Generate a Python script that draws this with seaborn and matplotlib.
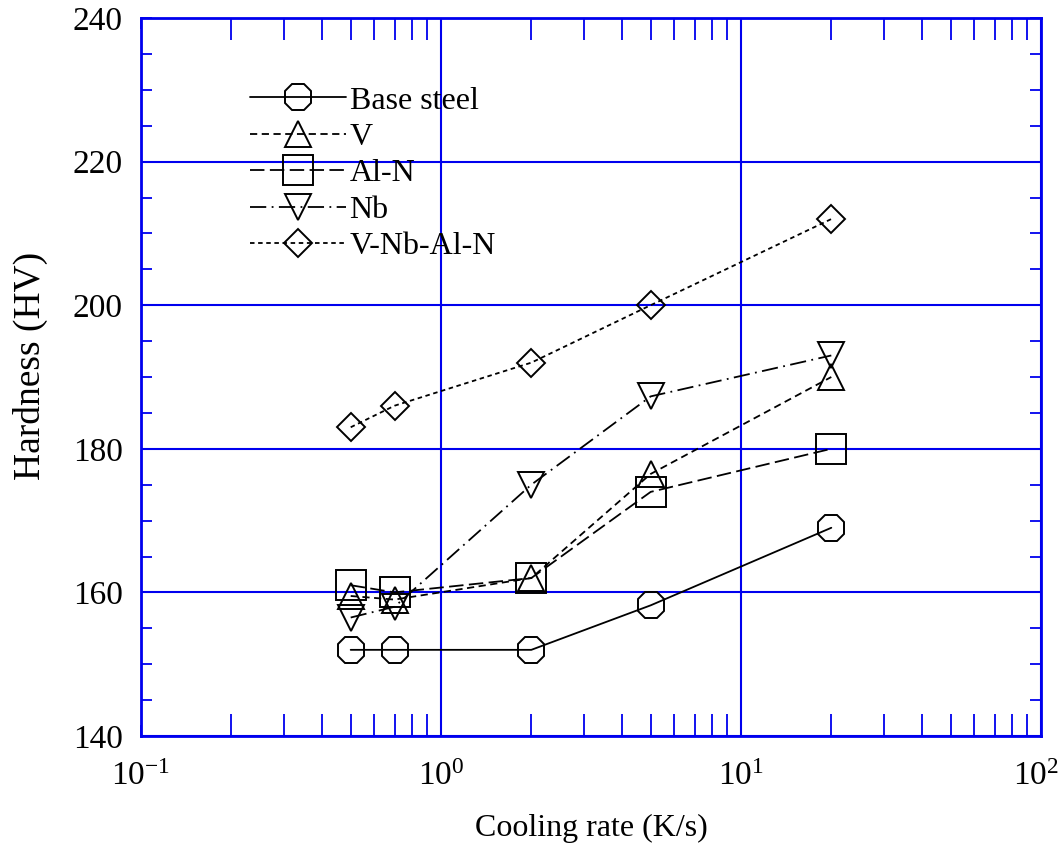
import numpy as np
import pandas as pd
import seaborn as sns
import matplotlib
matplotlib.use("Agg")
import matplotlib.pyplot as plt
import matplotlib.transforms as mtransforms
from matplotlib.ticker import LogLocator, LogFormatterMathtext, MultipleLocator

# ---- data ----
cooling_rate = [0.5, 0.7, 2, 5, 20]
base_steel = [152, 152, 152, 158.2, 169]
v_steel = [159.5, 159, 162, 176.5, 190]
aln_steel = [161, 160, 162, 174, 180]
nb_steel = [156.5, 158, 175, 187.3, 193]
vnbaln_steel = [183, 186, 192, 200, 212]
series_names = ["Base steel", "V", "Al-N", "Nb", "V-Nb-Al-N"]
y_ticks = [140, 160, 180, 200, 220, 240]

sns.set_theme(style="white")
plt.rcParams["font.family"] = ["Liberation Serif", "DejaVu Serif"]
plt.rcParams["mathtext.fontset"] = "custom"
plt.rcParams["mathtext.rm"] = "Liberation Serif"
plt.rcParams["mathtext.default"] = "regular"
plt.rcParams["text.color"] = "black"
plt.rcParams["axes.labelcolor"] = "black"

fig = plt.figure(figsize=(10.6, 8.46), dpi=100)
ax = fig.add_axes([141/1060, 1 - 736/846, 900/1060, 718/846])

blue = "#0000ee"
styles = {
    "Base steel": dict(marker="8", ls="-", ms=21),
    "V": dict(marker="^", ls=(0, (4, 2.5)), ms=19),
    "Al-N": dict(marker="s", ls=(0, (8, 3)), ms=21),
    "Nb": dict(marker="v", ls=(0, (9, 3, 1, 3)), ms=19),
    "V-Nb-Al-N": dict(marker="D", ls=(0, (2.5, 2)), ms=14),
}
values = [base_steel, v_steel, aln_steel, nb_steel, vnbaln_steel]

for name, vals in zip(series_names, values):
    st = styles[name]
    sns.lineplot(x=cooling_rate, y=vals, ax=ax, color="black", linewidth=1.3,
                 marker=st["marker"], linestyle=st["ls"], markersize=st["ms"],
                 markerfacecolor="none", markeredgecolor="black",
                 markeredgewidth=1.4, label=name, zorder=3)

ax.set_xscale("log")
ax.set_xlim(0.1, 100)
ax.set_ylim(140, 240)
ax.set_yticks(y_ticks)
ax.yaxis.set_minor_locator(MultipleLocator(5))
ax.xaxis.set_major_locator(LogLocator(base=10))
ax.xaxis.set_major_formatter(LogFormatterMathtext())
ax.xaxis.set_minor_locator(LogLocator(base=10, subs=np.arange(2, 10)))

ax.grid(True, which="major", color=blue, linewidth=1.5)
for sp in ax.spines.values():
    sp.set_color(blue)
    sp.set_linewidth(2)
ax.tick_params(which="both", direction="in", top=True, right=True,
               bottom=True, left=True,
               color=blue, width=1.3, labelcolor="black")
ax.tick_params(axis="y", which="major", labelsize=24, pad=13, length=8)
ax.tick_params(axis="x", which="major", labelsize=24, pad=18, length=8)
ax.tick_params(axis="x", which="minor", length=16)
ax.tick_params(axis="y", which="minor", length=8)

ax.set_xlabel("Cooling rate (K/s)", fontsize=23, labelpad=16)
ax.set_ylabel("Hardness (HV)", fontsize=27)
ax.yaxis.set_label_coords(-0.103, 0.515)

leg = ax.legend(loc="upper left", bbox_to_anchor=(0.121, 0.905), frameon=False,
                fontsize=23, handlelength=3.0, handletextpad=0.12,
                labelspacing=0.22, borderaxespad=0, borderpad=0)

# keep the rightmost exponent label (10^2) inside the canvas
fig.canvas.draw()
for tick in ax.xaxis.get_major_ticks():
    if np.isclose(tick.get_loc(), 100):
        lab = tick.label1
        lab.set_transform(lab.get_transform() +
                          mtransforms.ScaledTranslation(-5/100, 0, fig.dpi_scale_trans))

fig.savefig("out.png", dpi=100)
